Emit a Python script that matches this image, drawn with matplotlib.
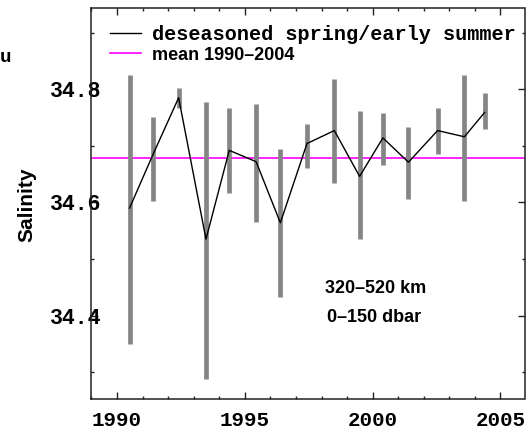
import matplotlib
matplotlib.use('Agg')
import matplotlib.pyplot as plt
from matplotlib.ticker import FixedLocator, MultipleLocator, FormatStrFormatter
from matplotlib.lines import Line2D

# ---- data ----
years = [1990.49, 1991.41, 1992.41, 1993.48, 1994.39, 1995.44, 1996.39, 1997.43,
         1998.50, 1999.49, 2000.40, 2001.40, 2002.54, 2003.59, 2004.38]
salinity = [34.590, 34.685, 34.785, 34.535, 34.692, 34.672, 34.564, 34.704,
            34.727, 34.646, 34.714, 34.671, 34.727, 34.716, 34.759]
range_low = [34.350, 34.603, 34.767, 34.287, 34.617, 34.566, 34.432, 34.661,
             34.635, 34.535, 34.666, 34.606, 34.685, 34.603, 34.730]
range_high = [34.826, 34.751, 34.802, 34.777, 34.767, 34.774, 34.694, 34.739,
              34.818, 34.761, 34.758, 34.734, 34.767, 34.826, 34.794]
mean_1990_2004 = 34.678
xticks_major = [1990, 1995, 2000, 2005]
yticks_major = [34.4, 34.6, 34.8]
series_label = 'deseasoned spring/early summer'
mean_label = 'mean 1990\u20132004'
annot_lines = ['320\u2013520 km', '0\u2013150 dbar']
annot_x = [2000.10, 2000.06]
annot_y = [34.447, 34.397]

W, H = 529, 436
fig = plt.figure(figsize=(W / 100, H / 100), dpi=100)
L, R, T, B = 90.7, 524.5, 7.8, 398.7
ax = fig.add_axes([L / W, 1 - B / H, (R - L) / W, (B - T) / H])

ax.vlines(years, range_low, range_high, colors='#858585', linewidth=3.4, zorder=2)
ax.plot(years, salinity, color='black', linewidth=1.0, zorder=3)
ax.axhline(mean_1990_2004, color='#ff00ff', linewidth=1.2, zorder=1)

ax.set_xlim(1988.97, 2005.94)
ax.set_ylim(34.253, 34.944)

ax.xaxis.set_major_locator(FixedLocator(xticks_major))
ax.xaxis.set_minor_locator(MultipleLocator(1))
ax.yaxis.set_major_locator(FixedLocator(yticks_major))
ax.yaxis.set_minor_locator(MultipleLocator(0.1))
ax.yaxis.set_major_formatter(FormatStrFormatter('%.1f'))

ax.tick_params(which='both', direction='in', top=True, right=True,
               color='#222222', width=1.0)
ax.tick_params(which='major', length=5)
ax.tick_params(which='minor', length=2.5)
ax.tick_params(axis='x', which='major', pad=9)
ax.tick_params(axis='y', which='major', pad=-8)

for lab in ax.get_xticklabels():
    lab.set_fontfamily('Liberation Mono')
    lab.set_fontweight('bold')
    lab.set_fontsize(15)
for lab in ax.get_yticklabels():
    lab.set_fontfamily('Liberation Mono')
    lab.set_fontweight('bold')
    lab.set_fontsize(15.5)
    lab.set_zorder(5)

for sp in ax.spines.values():
    sp.set_color('#222222')
    sp.set_linewidth(1.1)

handles = [Line2D([], [], color='black', linewidth=1.0),
           Line2D([], [], color='#ff00ff', linewidth=1.2)]
leg = ax.legend(handles, [series_label, mean_label], loc='upper left',
                bbox_to_anchor=(0.044, 0.957), frameon=False,
                prop={'family': 'Liberation Mono', 'weight': 'bold', 'size': 14.5},
                handlelength=1.57, handletextpad=0.55, labelspacing=0.1,
                borderpad=0, borderaxespad=0)
t2 = leg.get_texts()[1]
t2.set_fontfamily('Liberation Sans')
t2.set_fontweight('bold')
t2.set_fontsize(13)

for x, y, s in zip(annot_x, annot_y, annot_lines):
    ax.text(x, y, s, ha='center', va='center',
            fontfamily='Liberation Sans', fontweight='bold', fontsize=13)

fig.text(27 / W, 1 - 205 / H, 'Salinity', rotation=90, ha='center', va='center',
         fontfamily='Liberation Sans', fontweight='bold', fontsize=15)
fig.text(0.0, 1 - 57 / H, 'u', ha='left', va='center',
         fontfamily='Liberation Mono', fontweight='bold', fontsize=14)

fig.savefig('out.png', dpi=100)
